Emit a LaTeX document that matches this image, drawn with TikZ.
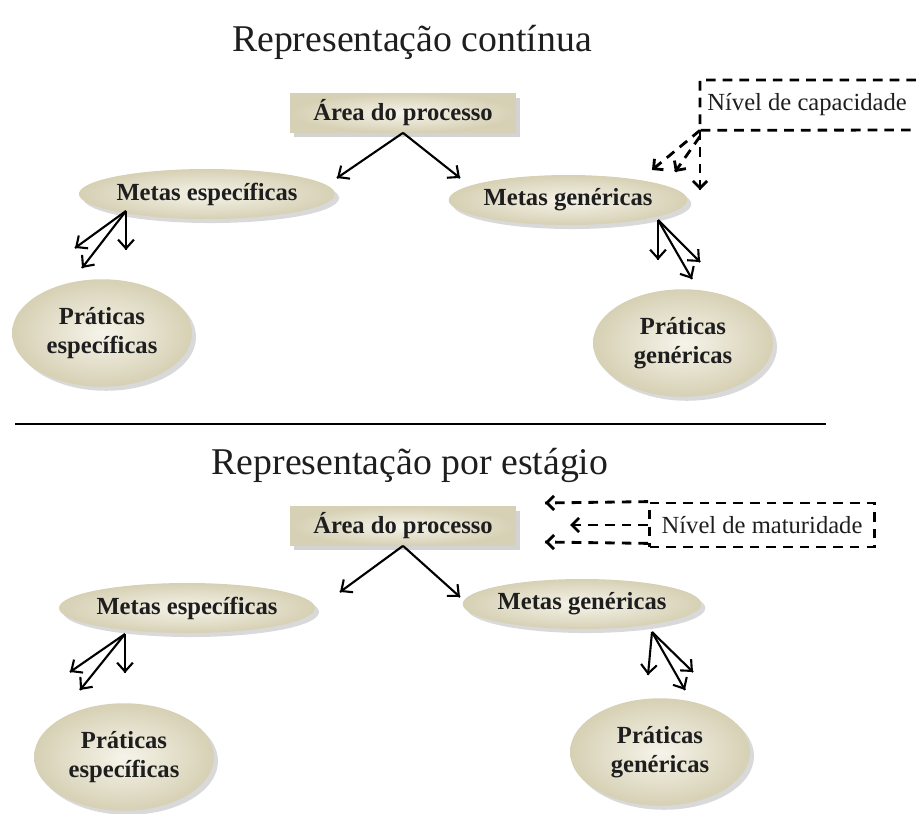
\documentclass[tikz,border=0pt]{standalone}
\usepackage{fontspec}
\setmainfont{Liberation Serif}
\usetikzlibrary{positioning, calc, shapes.geometric, arrows.meta, decorations.markings, shadows}
\definecolor{bege}{RGB}{214,208,180}
\definecolor{begeclaro}{RGB}{246,244,234}
\definecolor{texto}{RGB}{30,30,30}
\tikzstyle{Arrow} = [
%setas cheias:
very thick,
decoration={
markings,
mark=at position 1 with {
\arrow[very thick]{Straight Barb[length=5pt, width=9pt]}
}
},
preaction = {decorate}
]
\tikzstyle{DashArrow} = [
%setas tracejadas:
line width=1.6pt, dash pattern=on 5.5pt off 4pt,
decoration={
markings,
mark=at position 1 with {
\arrow[solid, line width=1.6pt]{Straight Barb[length=4pt, width=8pt]}
}
},
preaction = {decorate}
]

\begin{document}
\begin{tikzpicture}[x=0.02cm, y=-0.02cm,
					      titulo/.style = {font=\fontsize{21.5}{25}\selectfont, text=texto},
					      caixa/.style = {rectangle, inner color=begeclaro, outer color=bege, drop shadow={opacity=0.35}, text=texto, font=\bfseries\fontsize{14}{16}\selectfont, minimum width=4.52cm, minimum height=0.78cm},
					      meta/.style = {ellipse, inner color=begeclaro, outer color=bege, drop shadow={opacity=0.3}, text=texto, font=\bfseries\fontsize{14}{16}\selectfont, minimum width=4.74cm, minimum height=1cm, inner sep=0pt},
					      pratica/.style = {ellipse, inner color=begeclaro, outer color=bege, drop shadow={opacity=0.3}, text=texto, font=\bfseries\fontsize{14}{16.5}\selectfont, align=center, minimum width=3.6cm, minimum height=2.15cm, inner sep=0pt},
					      rotulo/.style = {text=texto, font=\fontsize{14}{16}\selectfont},
					      tracejado/.style = {line width=1.6pt, dash pattern=on 5.5pt off 4pt},
				      ]
				      \useasboundingbox (0,0) rectangle (916,814);

				      % representacao continua
				      \node[titulo](T1) at (412,42){Representação contínua};
				      \node[caixa](AP1) at (403,113){Área do processo};
				      \node[meta](ME1) at (207,194){Metas específicas};
				      \node[meta](MG1) at (568,200){Metas genéricas};
				      \node[pratica](PE1) at (102,333){Práticas\\específicas};
				      \node[pratica](PG1) at (683,343){Práticas\\genéricas};
				      \node[rotulo, minimum height=1cm, anchor=west, inner xsep=4pt](NC) at (700,105){Nível de capacidade};

				      \coordinate(e1) at (337,178);
				      \coordinate(e2) at (460,178);
				      \draw[Arrow](AP1.south)--(e1);
				      \draw[Arrow](AP1.south)--(e2);

				      \coordinate(o1) at ($(ME1.center)+(-81,17)$);
				      \draw[Arrow](o1)--(75,248);
				      \draw[Arrow](o1)--(82,268);
				      \draw[Arrow](o1)--(126,250);

				      \coordinate(o2) at ($(MG1.center)+(90,20)$);
				      \draw[Arrow](o2)--(658,260);
				      \draw[Arrow](o2)--(700,262);
				      \draw[Arrow](o2)--(692,279);

				      \draw[tracejado](916,80)-|(NC.south west)--(916,130);
				      \draw[DashArrow](NC.south west)--(652,170);
				      \draw[DashArrow]($(NC.south west)+(0,6)$)--(675,172);
				      \draw[DashArrow](NC.south west)--(700,190);

				      % linha divisoria
				      \draw[line width=1.7pt](15,424)--(826,424);

				      % representacao por estagio
				      \node[titulo](T2) at (410,465){Representação por estágio};
				      \node[caixa](AP2) at (403,526){Área do processo};
				      \node[meta](ME2) at (187,608){Metas específicas};
				      \node[meta](MG2) at (582,604){Metas genéricas};
				      \node[pratica](PE2) at (124,757){Práticas\\específicas};
				      \node[pratica](PG2) at (660,752){Práticas\\genéricas};
				      \node[rotulo, tracejado, draw, minimum width=4.5cm, minimum height=0.88cm](NM) at (762,525){Nível de maturidade};

				      \coordinate(e3) at (340,592);
				      \coordinate(e4) at (460,597);
				      \draw[Arrow](AP2.south)--(e3);
				      \draw[Arrow](AP2.south)--(e4);

				      \coordinate(o3) at ($(ME2.center)+(-62,26)$);
				      \draw[Arrow](o3)--(70,672);
				      \draw[Arrow](o3)--(80,690);
				      \draw[Arrow](o3)--(125,673);

				      \coordinate(o4) at ($(MG2.center)+(70,28)$);
				      \draw[Arrow](o4)--(648,675);
				      \draw[Arrow](o4)--(693,672);
				      \draw[Arrow](o4)--(685,690);

				      \draw[DashArrow](NM.north west)--(545,503);
				      \draw[DashArrow](NM.west)--(570,525);
				      \draw[DashArrow]($(NM.south west)+(0,-5)$)--(545,542);
			      \end{tikzpicture}
\end{document}
